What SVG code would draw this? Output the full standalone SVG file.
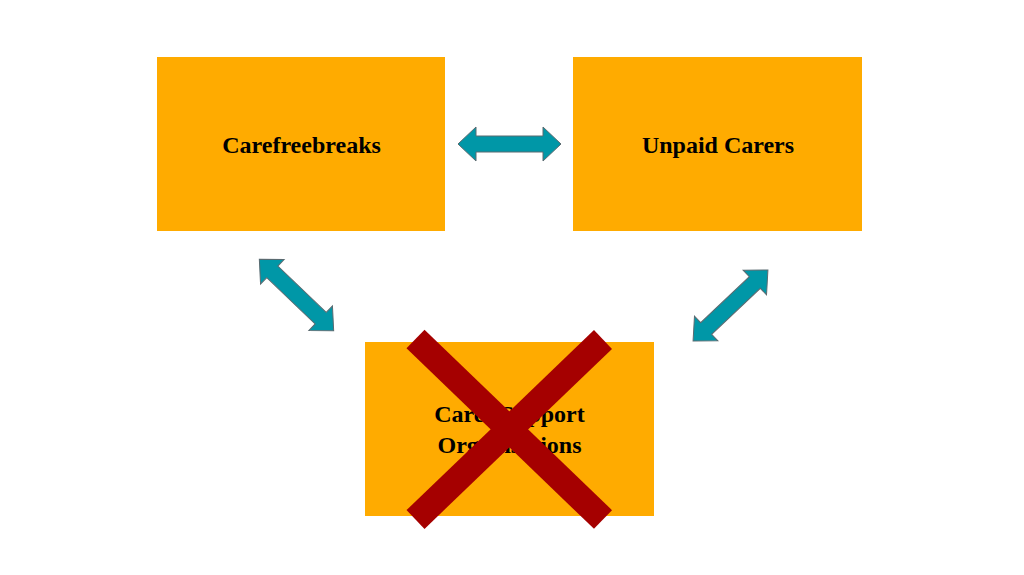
<svg xmlns="http://www.w3.org/2000/svg" xmlns:xlink="http://www.w3.org/1999/xlink" width="1024" height="575" viewBox="0 0 1024 575">
<style>
.box{fill:#FFAB00}
.lbl{font-family:"Liberation Serif","Times New Roman",serif;font-weight:bold;font-size:24px;fill:#000;text-anchor:middle}
.arr{fill:#0097A7;stroke:#5a6a70;stroke-width:1}
.cross{stroke:#A50000;stroke-width:26;stroke-linecap:butt}
</style>
<defs>
<polygon id="dbl" points="-51.5,0 -33.5,-17 -33.5,-8 33.5,-8 33.5,-17 51.5,0 33.5,17 33.5,8 -33.5,8 -33.5,17"/>
</defs>
<rect width="1024" height="575" fill="#fff"/>
<g id="node-carefreebreaks">
<rect class="box" x="157" y="57" width="288" height="174"/>
<text class="lbl" x="301.5" y="153">Carefreebreaks</text>
</g>
<g id="node-unpaid-carers">
<rect class="box" x="573" y="57" width="289" height="174"/>
<text class="lbl" x="718" y="153">Unpaid Carers</text>
</g>
<g id="node-carer-support">
<rect class="box" x="365" y="342" width="289" height="174"/>
<text class="lbl" x="509.5" y="422">Carer Support</text>
<text class="lbl" x="509.5" y="453">Organisations</text>
<g id="cross">
<line class="cross" x1="415.5" y1="339" x2="603" y2="519.5"/>
<line class="cross" x1="603" y1="339.5" x2="415.5" y2="519.5"/>
</g>
</g>
<g id="connectors">
<use xlink:href="#dbl" class="arr" transform="translate(509.5,144)"/>
<use xlink:href="#dbl" class="arr" transform="translate(296.5,295) rotate(43.8)"/>
<use xlink:href="#dbl" class="arr" transform="translate(730.5,305.5) rotate(-43.4)"/>
</g>
</svg>
